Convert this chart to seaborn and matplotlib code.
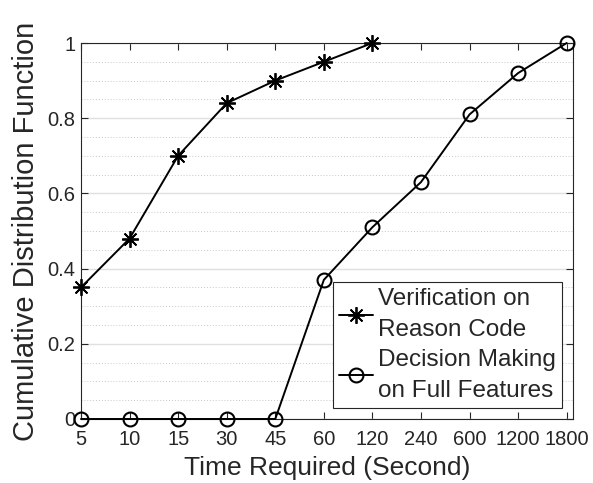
import matplotlib
matplotlib.use("Agg")
import matplotlib.pyplot as plt
from matplotlib.ticker import MultipleLocator
import numpy as np
import pandas as pd
import seaborn as sns

# Time buckets (seconds) shown as evenly spaced categories
time_labels = ["5", "10", "15", "30", "45", "60", "120", "240", "600", "1200", "1800"]

# CDF values per method
verification_cdf = [0.35, 0.48, 0.70, 0.84, 0.90, 0.95, 1.00]
decision_cdf = [0.0, 0.0, 0.0, 0.0, 0.0, 0.37, 0.51, 0.63, 0.81, 0.92, 1.00]

y_ticks = [0, 0.2, 0.4, 0.6, 0.8, 1.0]
y_tick_labels = ["0", "0.2", "0.4", "0.6", "0.8", "1"]

series_names = ["Verification on\nReason Code", "Decision Making\non Full Features"]

sns.set_theme(style="white")
plt.rcParams["font.family"] = ["Liberation Sans", "DejaVu Sans"]

fig = plt.figure(figsize=(5.93, 4.83), dpi=100)
ax = fig.add_axes([81 / 593, 1 - 419 / 483, (573 - 81) / 593, (419 - 43) / 483])

df_v = pd.DataFrame({"pos": np.arange(len(verification_cdf)), "cdf": verification_cdf})
df_d = pd.DataFrame({"pos": np.arange(len(decision_cdf)), "cdf": decision_cdf})

sns.lineplot(data=df_v, x="pos", y="cdf", ax=ax, color="black", linewidth=1.4,
             marker=(8, 2, 0), markersize=12, markeredgewidth=1.3,
             markeredgecolor="black", markerfacecolor="black",
             label=series_names[0], zorder=3, clip_on=False)
sns.lineplot(data=df_d, x="pos", y="cdf", ax=ax, color="black", linewidth=1.4,
             marker="o", markersize=10, markerfacecolor="none",
             markeredgecolor="black", markeredgewidth=1.5,
             label=series_names[1], zorder=3, clip_on=False)

ax.set_xlim(0, 10.13)
ax.set_ylim(0, 1)
ax.set_xticks(np.arange(len(time_labels)))
ax.set_xticklabels(time_labels)
ax.set_yticks(y_ticks)
ax.set_yticklabels(y_tick_labels)
ax.yaxis.set_minor_locator(MultipleLocator(0.05))

# horizontal grid only: solid majors, dotted minors
ax.grid(False)
ax.yaxis.grid(True, which="major", color="#e0e0e0", linewidth=1.0, linestyle="-")
ax.yaxis.grid(True, which="minor", color="#c8c8c8", linewidth=0.7, linestyle=(0, (1, 2)))
ax.set_axisbelow(True)

for side in ["left", "right", "top", "bottom"]:
    ax.spines[side].set_visible(True)
    ax.spines[side].set_color("#262626")
    ax.spines[side].set_linewidth(0.8)

ax.tick_params(axis="both", which="major", direction="in", length=5, width=0.8,
               color="#262626", labelcolor="#262626", labelsize=14.5,
               top=True, right=True, bottom=True, left=True, pad=4)
ax.tick_params(axis="x", which="major", pad=8)
ax.tick_params(axis="y", which="minor", length=0, left=False, right=False)

ax.set_xlabel("Time Required (Second)", fontsize=19, color="#262626", labelpad=5)
ax.set_ylabel("Cumulative Distribution Function", fontsize=21, color="#262626", labelpad=5)

leg = ax.legend(loc="lower right", bbox_to_anchor=(0.978, 0.029), borderaxespad=0,
                fontsize=17.5, frameon=True, fancybox=False, edgecolor="#262626",
                framealpha=1, handlelength=1.4, handletextpad=0.2, borderpad=0.25,
                labelspacing=0.3)
leg.get_frame().set_linewidth(0.8)
leg.set_zorder(5)
for t in leg.get_texts():
    t.set_color("#262626")
    t.set_linespacing(1.55)

fig.savefig("out.png", dpi=100)
